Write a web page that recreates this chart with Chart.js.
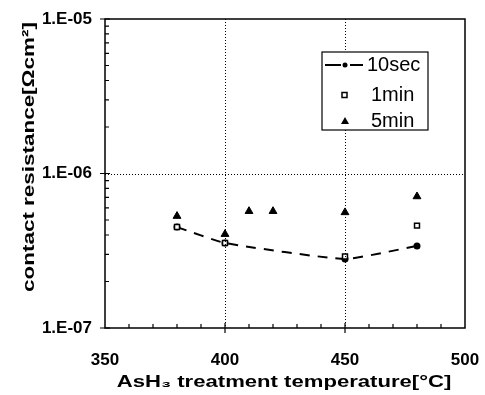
<!DOCTYPE html>
<html>
<head>
<meta charset="utf-8">
<script src="https://cdn.jsdelivr.net/npm/chart.js@4"></script>
<style>
  html, body { margin: 0; padding: 0; background: #fff; }
  #wrap { width: 485px; height: 395px; }
</style>
</head>
<body>
<div id="wrap"><canvas id="chart" width="485" height="395"></canvas></div>
<script>
// values
const temps10s = [380, 400, 450, 480];
const res10s = [4.5e-7, 3.55e-7, 2.8e-7, 3.4e-7];
const temps1m = [380, 400, 450, 480];
const res1m = [4.5e-7, 3.55e-7, 2.9e-7, 4.6e-7];
const temps5m = [380, 400, 410, 420, 450, 480];
const res5m = [5.3e-7, 4.05e-7, 5.7e-7, 5.7e-7, 5.6e-7, 7.1e-7];
const seriesNames = ['10sec', '1min', '5min'];
const xTicks = [350, 400, 450, 500];
const yDecades = [1e-7, 1e-6, 1e-5];
const xTitle = 'AsH\u2083 treatment temperature[\u00b0C]';
const yTitle = 'contact resistance[\u03a9cm\u00b2]';

const FONT = '"Liberation Sans", Arial, sans-serif';

function pts(xs, ys) {
    return xs.map((x, i) => ({ x: x, y: ys[i] }));
}

// frame, dotted grid and inward ticks like the original plot
const framePlugin = {
    id: 'frame',
    afterDatasetsDraw(chart) {
        const { ctx, chartArea: a, scales: { x, y } } = chart;
        ctx.save();
        ctx.strokeStyle = '#000';

        // dotted grid lines
        ctx.lineWidth = 1;
        ctx.setLineDash([1, 2]);
        ctx.beginPath();
        [400, 450].forEach(v => {
            const px = Math.round(x.getPixelForValue(v)) + 0.5;
            ctx.moveTo(px, a.top);
            ctx.lineTo(px, a.bottom);
        });
        const gy = Math.round(y.getPixelForValue(1e-6)) + 0.5;
        ctx.moveTo(a.left, gy);
        ctx.lineTo(a.right, gy);
        ctx.stroke();
        ctx.setLineDash([]);

        // box
        ctx.lineWidth = 1.5;
        ctx.strokeRect(a.left, a.top, a.right - a.left, a.bottom - a.top);

        // y ticks
        ctx.lineWidth = 1.2;
        ctx.beginPath();
        for (let d = 0; d < yDecades.length - 1; d++) {
            for (let m = 2; m <= 9; m++) {
                const py = y.getPixelForValue(yDecades[d] * m);
                ctx.moveTo(a.left, py);
                ctx.lineTo(a.left + 4, py);
            }
        }
        yDecades.forEach(v => {
            const py = y.getPixelForValue(v);
            ctx.moveTo(a.left - 5, py);
            ctx.lineTo(a.left + 5, py);
        });
        // x ticks
        for (let v = 360; v < 500; v += 10) {
            const px = x.getPixelForValue(v);
            if (v % 50 === 0) {
                ctx.moveTo(px, a.bottom - 5);
                ctx.lineTo(px, a.bottom + 5);
            } else {
                ctx.moveTo(px, a.bottom);
                ctx.lineTo(px, a.bottom - 4);
            }
        }
        ctx.stroke();

        // axis titles (wide bold face, stretched a little)
        ctx.fillStyle = '#000';
        ctx.font = 'bold 17px ' + FONT;
        ctx.textAlign = 'center';
        ctx.textBaseline = 'middle';
        ctx.save();
        ctx.translate(284, 382);
        ctx.scale(1.3, 1);
        ctx.fillText(xTitle, 0, 0);
        ctx.restore();
        ctx.save();
        ctx.translate(29, 157);
        ctx.rotate(-Math.PI / 2);
        ctx.scale(1.32, 1);
        ctx.fillText(yTitle, 0, 0);
        ctx.restore();
        ctx.restore();
    }
};

// boxed legend in the upper right
const legendPlugin = {
    id: 'boxLegend',
    afterDraw(chart) {
        const ctx = chart.ctx;
        const bx = 322, by = 52, bw = 106, bh = 78;
        const rows = [65, 95, 121];
        ctx.save();
        ctx.fillStyle = '#fff';
        ctx.fillRect(bx, by, bw, bh);
        ctx.strokeStyle = '#000';
        ctx.lineWidth = 1.2;
        ctx.strokeRect(bx, by, bw, bh);

        // 10sec: dashed line with dot
        ctx.lineWidth = 2;
        ctx.beginPath();
        ctx.moveTo(325, rows[0]);
        ctx.lineTo(341, rows[0]);
        ctx.moveTo(350, rows[0]);
        ctx.lineTo(363, rows[0]);
        ctx.stroke();
        ctx.fillStyle = '#000';
        ctx.beginPath();
        ctx.arc(345, rows[0], 2.5, 0, Math.PI * 2);
        ctx.fill();

        // 1min: small hollow square
        ctx.lineWidth = 1.5;
        ctx.fillStyle = '#fff';
        ctx.fillRect(342, rows[1] - 2.5, 5, 5);
        ctx.strokeRect(342, rows[1] - 2.5, 5, 5);

        // 5min: filled triangle
        ctx.fillStyle = '#000';
        ctx.beginPath();
        ctx.moveTo(345, rows[2] - 4);
        ctx.lineTo(349, rows[2] + 3);
        ctx.lineTo(341, rows[2] + 3);
        ctx.closePath();
        ctx.fill();

        ctx.font = '20px ' + FONT;
        ctx.textBaseline = 'middle';
        ctx.textAlign = 'left';
        ctx.fillText(seriesNames[0], 367, rows[0]);
        ctx.fillText(seriesNames[1], 371, rows[1]);
        ctx.fillText(seriesNames[2], 371, rows[2]);
        ctx.restore();
    }
};

// keep tick label overhang from shrinking the plot area
function noPad(s) {
    s.paddingLeft = 0;
    s.paddingRight = 0;
    s.paddingTop = 0;
    s.paddingBottom = 0;
}

const ctx = document.getElementById('chart').getContext('2d');
new Chart(ctx, {
    type: 'line',
    data: {
        datasets: [{
            label: seriesNames[0],
            data: pts(temps10s, res10s),
            borderColor: '#000',
            backgroundColor: '#000',
            borderWidth: 2,
            borderDash: [10, 8],
            tension: 0.15,
            pointStyle: 'circle',
            pointRadius: 2.5,
            order: 2
        }, {
            label: seriesNames[1],
            data: pts(temps1m, res1m),
            showLine: false,
            borderColor: '#000',
            backgroundColor: '#fff',
            borderWidth: 1.5,
            pointStyle: 'rect',
            pointRadius: 3.5,
            order: 1
        }, {
            label: seriesNames[2],
            data: pts(temps5m, res5m),
            showLine: false,
            borderColor: '#000',
            backgroundColor: '#000',
            pointStyle: 'triangle',
            pointRadius: 4.5,
            order: 0
        }]
    },
    options: {
        responsive: false,
        animation: false,
        layout: { padding: { top: 19, right: 20, left: 0, bottom: 0 } },
        plugins: {
            legend: { display: false },
            tooltip: { enabled: false }
        },
        scales: {
            x: {
                type: 'linear',
                min: 350,
                max: 500,
                afterBuildTicks: s => { s.ticks = xTicks.map(v => ({ value: v })); },
                afterFit: s => { s.height = 67; noPad(s); },
                grid: { display: false, drawTicks: false },
                border: { display: false },
                ticks: {
                    color: '#000',
                    padding: 22,
                    font: { family: FONT, size: 17, weight: 'bold' }
                }
            },
            y: {
                type: 'logarithmic',
                min: 1e-7,
                max: 1e-5,
                afterBuildTicks: s => { s.ticks = yDecades.map(v => ({ value: v })); },
                afterFit: s => { s.width = 105; noPad(s); },
                grid: { display: false, drawTicks: false },
                border: { display: false },
                ticks: {
                    color: '#000',
                    padding: 13,
                    font: { family: FONT, size: 17, weight: 'bold' },
                    callback: v => '1.E-0' + Math.round(-Math.log10(v))
                }
            }
        }
    },
    plugins: [framePlugin, legendPlugin]
});
</script>
</body>
</html>
